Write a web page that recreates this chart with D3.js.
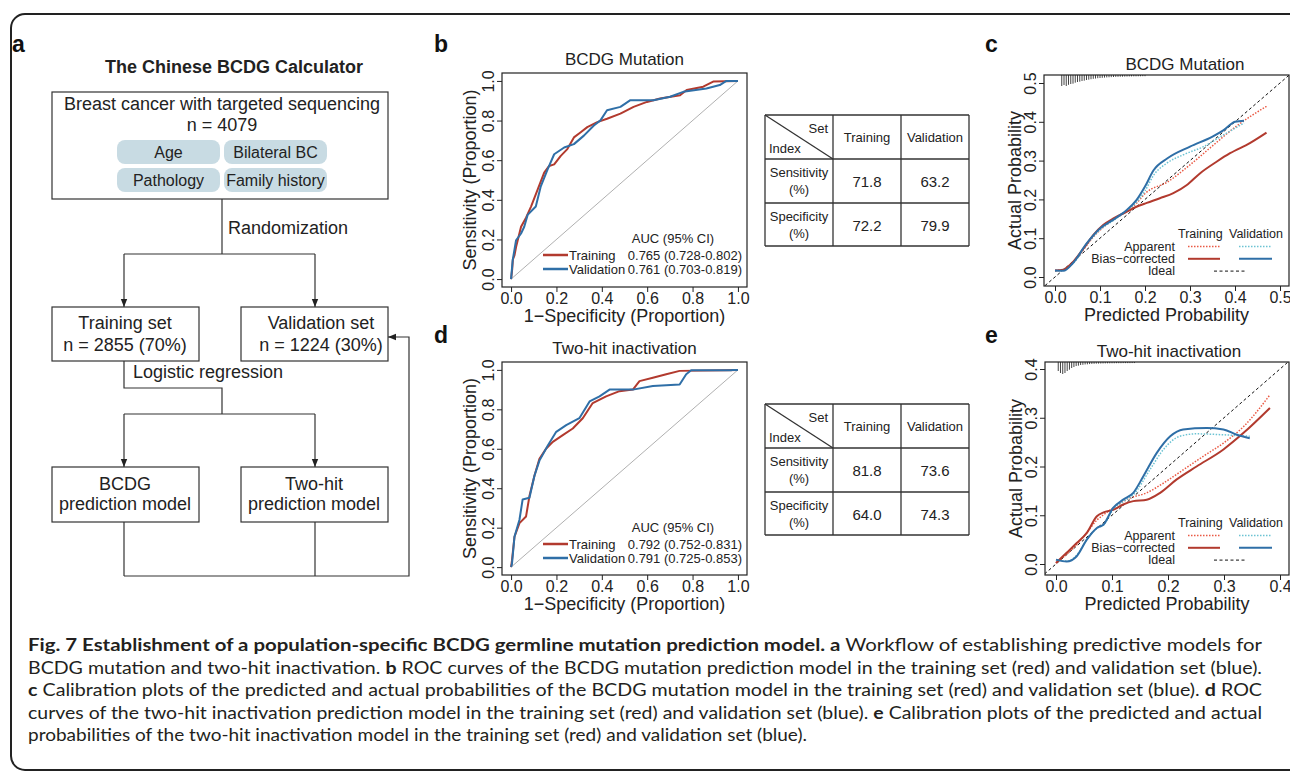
<!DOCTYPE html>
<html>
<head>
<meta charset="utf-8">
<script src="https://cdn.jsdelivr.net/npm/d3@7"></script>
<style>
  body { margin: 0; background: #fff; }
  svg { display: block; }
</style>
</head>
<body>
<div id="viz"></div>
<script>
// -----------------------------
// DATA
// -----------------------------
const rocTicks = [0, 0.2, 0.4, 0.6, 0.8, 1.0];

// ROC curves, [1 - specificity, sensitivity]
const rocTrainB = [[0,0],[0.005,0.05],[0.008,0.1],[0.015,0.12],[0.022,0.162],[0.044,0.264],[0.066,0.31],[0.088,0.366],[0.117,0.451],[0.146,0.537],[0.168,0.571],[0.19,0.579],[0.219,0.622],[0.248,0.656],[0.277,0.715],[0.307,0.741],[0.336,0.767],[0.38,0.792],[0.423,0.809],[0.482,0.835],[0.54,0.869],[0.599,0.894],[0.657,0.911],[0.745,0.928],[0.774,0.954],[0.847,0.971],[0.891,0.997],[1,1]];
const rocValidB = [[0,0],[0.007,0.094],[0.022,0.196],[0.044,0.23],[0.058,0.264],[0.073,0.324],[0.109,0.366],[0.131,0.468],[0.161,0.554],[0.19,0.63],[0.234,0.664],[0.277,0.681],[0.321,0.724],[0.365,0.775],[0.394,0.801],[0.423,0.852],[0.482,0.869],[0.526,0.903],[0.628,0.903],[0.701,0.92],[0.759,0.945],[0.861,0.962],[0.92,0.979],[0.949,1],[1,1]];
const rocTrainD = [[0,0],[0.004,0.034],[0.015,0.154],[0.037,0.223],[0.066,0.257],[0.081,0.36],[0.103,0.463],[0.125,0.549],[0.154,0.6],[0.184,0.635],[0.228,0.669],[0.272,0.703],[0.316,0.755],[0.36,0.832],[0.419,0.866],[0.478,0.892],[0.537,0.9],[0.566,0.943],[0.625,0.96],[0.684,0.978],[0.743,0.995],[0.949,0.998],[1,1]];
const rocValidD = [[0,0],[0.004,0.017],[0.015,0.154],[0.037,0.24],[0.051,0.343],[0.081,0.352],[0.103,0.463],[0.125,0.54],[0.162,0.617],[0.199,0.686],[0.243,0.72],[0.301,0.755],[0.346,0.84],[0.39,0.866],[0.434,0.9],[0.537,0.9],[0.625,0.918],[0.743,0.926],[0.772,0.978],[0.794,0.998],[0.97,0.998],[0.978,1],[1,1]];

const aucLabelsB = ["0.765 (0.728-0.802)", "0.761 (0.703-0.819)"];
const aucLabelsD = ["0.792 (0.752-0.831)", "0.791 (0.725-0.853)"];

// tables: rows Sensitivity / Specificity, cols Training / Validation
const tableCols = ["Training", "Validation"];
const tableRows = ["Sensitivity", "Specificity"];
const tableB = [["71.8", "63.2"], ["72.2", "79.9"]];
const tableD = [["81.8", "73.6"], ["64.0", "74.3"]];

// calibration curves, [predicted, actual]
const calTrainBiasC = [[0,0.017],[0.0185,0.019],[0.04,0.039],[0.063,0.073],[0.085,0.108],[0.107,0.134],[0.13,0.151],[0.159,0.168],[0.181,0.181],[0.204,0.191],[0.233,0.203],[0.263,0.216],[0.293,0.237],[0.322,0.267],[0.359,0.297],[0.389,0.319],[0.433,0.345],[0.47,0.372]];
const calTrainAppC = [[0,0.017],[0.0185,0.018],[0.04,0.037],[0.063,0.07],[0.085,0.103],[0.107,0.128],[0.13,0.148],[0.159,0.17],[0.181,0.19],[0.2,0.215],[0.25,0.245],[0.3,0.289],[0.35,0.338],[0.4,0.386],[0.47,0.44]];
const calValidBiasC = [[0,0.017],[0.0185,0.016],[0.04,0.036],[0.07,0.086],[0.1,0.125],[0.13,0.148],[0.159,0.172],[0.181,0.198],[0.2,0.233],[0.219,0.275],[0.25,0.306],[0.3,0.336],[0.35,0.362],[0.374,0.378],[0.4,0.4],[0.42,0.403]];
const calValidAppC = [[0,0.015],[0.04,0.035],[0.07,0.083],[0.1,0.122],[0.13,0.146],[0.159,0.17],[0.181,0.193],[0.2,0.222],[0.219,0.262],[0.248,0.293],[0.285,0.315],[0.33,0.336],[0.374,0.366],[0.42,0.397]];

const calTrainBiasE = [[0,0.002],[0.019,0.023],[0.037,0.043],[0.055,0.064],[0.073,0.098],[0.085,0.106],[0.102,0.111],[0.12,0.122],[0.138,0.129],[0.162,0.132],[0.186,0.146],[0.215,0.173],[0.251,0.2],[0.299,0.235],[0.335,0.269],[0.382,0.32]];
const calTrainAppE = [[0,0.002],[0.019,0.02],[0.037,0.04],[0.055,0.064],[0.073,0.09],[0.085,0.101],[0.102,0.115],[0.132,0.135],[0.162,0.146],[0.192,0.166],[0.227,0.193],[0.263,0.221],[0.299,0.248],[0.335,0.282],[0.382,0.347]];
const calValidBiasE = [[0,0.009],[0.019,0.005],[0.037,0.016],[0.055,0.05],[0.073,0.074],[0.085,0.081],[0.102,0.115],[0.12,0.132],[0.138,0.146],[0.156,0.18],[0.18,0.228],[0.204,0.262],[0.227,0.276],[0.269,0.279],[0.299,0.276],[0.323,0.265],[0.346,0.258]];
const calValidAppE = [[0,0.008],[0.019,0.006],[0.037,0.018],[0.055,0.05],[0.073,0.073],[0.085,0.08],[0.102,0.112],[0.12,0.128],[0.138,0.142],[0.168,0.194],[0.192,0.235],[0.221,0.262],[0.251,0.267],[0.299,0.265],[0.346,0.262]];

// histogram spikes of predicted probabilities (top rug)
const spikeXC = [0.015,0.02,0.025,0.03,0.035,0.04,0.045,0.05,0.055,0.06,0.065,0.07,0.075,0.08,0.085,0.09,0.095,0.1,0.105,0.11,0.115,0.12,0.125,0.13,0.135,0.14,0.145,0.15,0.155,0.16,0.165,0.17,0.175,0.18,0.185,0.19,0.195,0.2];
const spikeCountC = [150,135,150,132,120,115,100,90,85,75,70,60,55,48,42,38,33,30,27,24,21,19,17,15,13,12,11,10,9,8,7,6,5,5,4,4,3,3];
const spikeXE = [0.004,0.008,0.012,0.016,0.02,0.024,0.028,0.032,0.036,0.04,0.044,0.048,0.052,0.056,0.06,0.064,0.068,0.072,0.076,0.08,0.084,0.088,0.092,0.096,0.1,0.104,0.108,0.112,0.116,0.12,0.124,0.128,0.132,0.136,0.14];
const spikeCountE = [120,150,165,150,120,100,75,60,45,40,30,27,22,20,16,14,12,10,9,8,7,6,5,5,4,4,3,3,3,2,2,2,2,1,1];

const calTicksC = [0, 0.1, 0.2, 0.3, 0.4, 0.5];
const calTicksE = [0, 0.1, 0.2, 0.3, 0.4];

// -----------------------------
// SETUP
// -----------------------------
const W = 1290, H = 774;
const FONT = "'Liberation Sans', Arial, Helvetica, sans-serif";
const INK = "#222";
const RED = "#b23a2e", BLUE = "#2f6fa7";
const RED_LIGHT = "#ea5a45", BLUE_LIGHT = "#6cc3d3";

const svg = d3.select("#viz").append("svg")
  .attr("width", W).attr("height", H)
  .attr("font-family", FONT);

svg.append("rect").attr("width", W).attr("height", H).attr("fill", "#fff");

// outer rounded frame
svg.append("rect")
  .attr("x", 11).attr("y", 14).attr("width", 1330).attr("height", 756).attr("rx", 14)
  .attr("fill", "none").attr("stroke", INK).attr("stroke-width", 2);

const defs = svg.append("defs");
defs.append("marker").attr("id", "arr")
  .attr("viewBox", "0 0 10 10").attr("refX", 10).attr("refY", 5)
  .attr("markerWidth", 9).attr("markerHeight", 8).attr("markerUnits", "userSpaceOnUse")
  .attr("orient", "auto")
  .append("path").attr("d", "M0,1L10,5L0,9Z").attr("fill", INK);

function label(txt, x, y) {
  svg.append("text").attr("x", x).attr("y", y).attr("font-size", 23)
    .attr("font-weight", "bold").attr("fill", "#111").text(txt);
}
label("a", 12, 52);
label("b", 434, 52);
label("d", 434, 343);
label("c", 985, 52);
label("e", 985, 343);

// -----------------------------
// PANEL A: FLOWCHART
// -----------------------------
const flow = svg.append("g").attr("fill", INK);
const poly = d3.line();

function box(x, y, w, h) {
  flow.append("rect").attr("x", x).attr("y", y).attr("width", w).attr("height", h)
    .attr("fill", "#fff").attr("stroke", "#333").attr("stroke-width", 1.2);
}
function ftext(txt, x, y, size, anchor) {
  flow.append("text").attr("x", x).attr("y", y).attr("font-size", size || 18)
    .attr("text-anchor", anchor || "middle").attr("fill", INK).text(txt);
}
function wire(pts, arrow) {
  flow.append("path").attr("d", poly(pts)).attr("fill", "none")
    .attr("stroke", "#333").attr("stroke-width", 1.2)
    .attr("marker-end", arrow ? "url(#arr)" : null);
}

flow.append("text").attr("x", 234).attr("y", 73).attr("font-size", 18)
  .attr("font-weight", "bold").attr("text-anchor", "middle").text("The Chinese BCDG Calculator");

box(52, 92, 336, 107);
ftext("Breast cancer with targeted sequencing", 222, 110);
ftext("n = 4079", 222, 131);

const pills = [
  { t: "Age", x: 117, y: 140 }, { t: "Bilateral BC", x: 224, y: 140 },
  { t: "Pathology", x: 117, y: 168 }, { t: "Family history", x: 224, y: 168 }
];
pills.forEach(p => {
  flow.append("rect").attr("x", p.x).attr("y", p.y).attr("width", 103).attr("height", 24)
    .attr("rx", 8).attr("fill", "#c8dbe3");
  ftext(p.t, p.x + 51.5, p.y + 18, 16);
});

wire([[222, 199], [222, 254]]);
ftext("Randomization", 228, 234, 18, "start");
wire([[124, 254], [315, 254]]);
wire([[124, 254], [124, 307]], true);
wire([[315, 254], [315, 307]], true);

box(52, 307, 147, 54);
ftext("Training set", 125, 329);
ftext("n = 2855 (70%)", 125, 351);
box(241, 307, 147, 54);
ftext("Validation set", 321, 329);
ftext("n = 1224 (30%)", 321, 351);

wire([[124, 361], [124, 388], [222, 388], [222, 414]]);
ftext("Logistic regression", 133, 378, 18, "start");
wire([[124, 414], [315, 414]]);
wire([[124, 414], [124, 467]], true);
wire([[315, 414], [315, 467]], true);

box(52, 467, 147, 55);
ftext("BCDG", 125, 490);
ftext("prediction model", 125, 510);
box(241, 467, 147, 55);
ftext("Two-hit", 314, 490);
ftext("prediction model", 314, 510);

wire([[124, 522], [124, 576]]);
wire([[315, 522], [315, 576]]);
wire([[124, 576], [409, 576], [409, 337], [388, 337]], true);

// -----------------------------
// ROC PANELS
// -----------------------------
function styleAxisText(sel, size) {
  sel.attr("font-family", FONT);
  sel.selectAll("text").attr("font-size", size).attr("font-family", FONT).attr("fill", INK);
}

function drawRoc(o) {
  const g = svg.append("g");
  const x = d3.scaleLinear().domain([-0.04, 1.04]).range([o.left, o.right]);
  const y = d3.scaleLinear().domain([-0.04, 1.04]).range([o.bottom, o.top]);

  g.append("text").attr("x", (o.left + o.right) / 2).attr("y", o.top - 8)
    .attr("text-anchor", "middle").attr("font-size", 17).attr("fill", INK).text(o.title);

  // chance line
  g.append("line").attr("x1", x(0)).attr("y1", y(0)).attr("x2", x(1)).attr("y2", y(1))
    .attr("stroke", "#b0b0b0").attr("stroke-width", 1);

  const line = d3.line().x(d => x(d[0])).y(d => y(d[1]));
  g.append("path").datum(o.train).attr("d", line).attr("fill", "none")
    .attr("stroke", RED).attr("stroke-width", 2).attr("stroke-linejoin", "round");
  g.append("path").datum(o.valid).attr("d", line).attr("fill", "none")
    .attr("stroke", BLUE).attr("stroke-width", 2).attr("stroke-linejoin", "round");

  g.append("rect").attr("x", o.left).attr("y", o.top)
    .attr("width", o.right - o.left).attr("height", o.bottom - o.top)
    .attr("fill", "none").attr("stroke", INK).attr("stroke-width", 1.2);

  const xa = g.append("g").attr("transform", `translate(0,${o.bottom})`).attr("color", INK)
    .call(d3.axisBottom(x).tickValues(rocTicks).tickFormat(d3.format(".1f")).tickSize(5));
  xa.select(".domain").remove();
  styleAxisText(xa, 16);
  xa.selectAll("text").attr("y", 17).attr("dy", null);

  const ya = g.append("g").attr("transform", `translate(${o.left},0)`).attr("color", INK)
    .call(d3.axisLeft(y).tickValues(rocTicks).tickFormat(d3.format(".1f")).tickSize(5));
  ya.select(".domain").remove();
  styleAxisText(ya, 16);
  ya.selectAll("text").attr("x", 0).attr("y", -8).attr("dy", null)
    .attr("text-anchor", "middle").attr("transform", "rotate(-90)");

  g.append("text").attr("x", (o.left + o.right) / 2).attr("y", o.bottom + 35)
    .attr("text-anchor", "middle").attr("font-size", 18).attr("fill", INK)
    .text("1\u2212Specificity (Proportion)");
  g.append("text")
    .attr("transform", `translate(${o.left - 32},${(o.top + o.bottom) / 2}) rotate(-90)`)
    .attr("dy", "0.35em").attr("text-anchor", "middle").attr("font-size", 18).attr("fill", INK)
    .text("Sensitivity (Proportion)");

  // legend
  const lg = g.append("g").attr("font-size", 13).attr("fill", INK);
  lg.append("text").attr("x", 673).attr("y", o.top + 170).attr("text-anchor", "middle").text("AUC (95% CI)");
  [["Training", RED, o.auc[0]], ["Validation", BLUE, o.auc[1]]].forEach((d, i) => {
    const ly = o.top + 182 + i * 14;
    lg.append("line").attr("x1", 543).attr("x2", 568).attr("y1", ly).attr("y2", ly)
      .attr("stroke", d[1]).attr("stroke-width", 2.5);
    lg.append("text").attr("x", 569).attr("y", ly + 5).text(d[0]);
    lg.append("text").attr("x", 742).attr("y", ly + 5).attr("text-anchor", "end").text(d[2]);
  });
}

drawRoc({ left: 502, right: 747, top: 73, bottom: 287, title: "BCDG Mutation",
  train: rocTrainB, valid: rocValidB, auc: aucLabelsB });
drawRoc({ left: 502, right: 747, top: 362, bottom: 575, title: "Two-hit inactivation",
  train: rocTrainD, valid: rocValidD, auc: aucLabelsD });

// -----------------------------
// TABLES
// -----------------------------
function drawTable(top, vals) {
  const g = svg.append("g").attr("fill", INK);
  const xs = [765, 833, 901, 969];
  const ys = [top, top + 44, top + 88, top + 131];
  const ln = (x1, y1, x2, y2) => {
    g.append("line").attr("x1", x1).attr("y1", y1).attr("x2", x2).attr("y2", y2)
      .attr("stroke", "#333").attr("stroke-width", 1.3);
  };
  xs.forEach(x => ln(x, ys[0], x, ys[3]));
  ys.forEach(y => ln(xs[0], y, xs[3], y));
  ln(xs[0], ys[0], xs[1], ys[1]);

  g.append("text").attr("x", 828).attr("y", top + 18).attr("text-anchor", "end").attr("font-size", 13).text("Set");
  g.append("text").attr("x", 769).attr("y", top + 38).attr("font-size", 13).text("Index");
  tableCols.forEach((c, j) => {
    g.append("text").attr("x", (xs[j + 1] + xs[j + 2]) / 2).attr("y", top + 27)
      .attr("text-anchor", "middle").attr("font-size", 13).text(c);
  });
  tableRows.forEach((r, i) => {
    const y0 = ys[i + 1];
    g.append("text").attr("x", 799).attr("y", y0 + 18).attr("text-anchor", "middle").attr("font-size", 13).text(r);
    g.append("text").attr("x", 799).attr("y", y0 + 35).attr("text-anchor", "middle").attr("font-size", 13).text("(%)");
    vals[i].forEach((v, j) => {
      g.append("text").attr("x", (xs[j + 1] + xs[j + 2]) / 2).attr("y", y0 + 28)
        .attr("text-anchor", "middle").attr("font-size", 15).text(v);
    });
  });
}
drawTable(115, tableB);
drawTable(404, tableD);

// -----------------------------
// CALIBRATION PANELS
// -----------------------------
function drawCal(o) {
  const g = svg.append("g");
  const x = d3.scaleLinear().domain([0, o.max]).range([o.x0, o.x1]);
  const y = d3.scaleLinear().domain([0, o.max]).range([o.y0, o.y1]);
  const clipId = "clip" + o.id;
  defs.append("clipPath").attr("id", clipId).append("rect")
    .attr("x", o.left).attr("y", o.top).attr("width", o.right - o.left).attr("height", o.bottom - o.top);

  g.append("text").attr("x", o.titleX).attr("y", o.top - 5)
    .attr("text-anchor", "middle").attr("font-size", 17).attr("fill", INK).text(o.title);

  const inner = g.append("g").attr("clip-path", `url(#${clipId})`);
  // ideal
  inner.append("line").attr("x1", x(-0.05)).attr("y1", y(-0.05)).attr("x2", x(o.max * 1.1)).attr("y2", y(o.max * 1.1))
    .attr("stroke", "#111").attr("stroke-width", 1).attr("stroke-dasharray", "3,2.5");

  // rug histogram hanging from the top
  const len = d3.scaleLinear().domain([0, 165]).range([0, 11]);
  inner.selectAll("line.spike").data(o.spikeX).join("line").attr("class", "spike")
    .attr("x1", d => x(d)).attr("x2", d => x(d))
    .attr("y1", o.top).attr("y2", (d, i) => o.top + 1 + len(o.spikeN[i]))
    .attr("stroke", "#444").attr("stroke-width", 1);

  const line = d3.line().x(d => x(d[0])).y(d => y(d[1])).curve(d3.curveMonotoneX);
  const series = [
    { d: o.trainApp, c: RED_LIGHT, w: 1.5, dash: "1.5,1.5" },
    { d: o.validApp, c: BLUE_LIGHT, w: 1.5, dash: "1.5,1.5" },
    { d: o.trainBias, c: RED, w: 2, dash: null },
    { d: o.validBias, c: BLUE, w: 2, dash: null }
  ];
  series.forEach(s => {
    inner.append("path").datum(s.d).attr("d", line).attr("fill", "none")
      .attr("stroke", s.c).attr("stroke-width", s.w).attr("stroke-dasharray", s.dash);
  });

  g.append("rect").attr("x", o.left).attr("y", o.top)
    .attr("width", o.right - o.left).attr("height", o.bottom - o.top)
    .attr("fill", "none").attr("stroke", INK).attr("stroke-width", 1.2);

  const xa = g.append("g").attr("transform", `translate(0,${o.bottom})`).attr("color", INK)
    .call(d3.axisBottom(x).tickValues(o.ticks).tickFormat(d3.format(".1f")).tickSize(5));
  xa.select(".domain").remove();
  styleAxisText(xa, 16);
  xa.selectAll("text").attr("y", 17).attr("dy", null);

  const ya = g.append("g").attr("transform", `translate(${o.left},0)`).attr("color", INK)
    .call(d3.axisLeft(y).tickValues(o.ticks).tickFormat(d3.format(".1f")).tickSize(5));
  ya.select(".domain").remove();
  styleAxisText(ya, 16);
  ya.selectAll("text").attr("x", 0).attr("y", -8).attr("dy", null)
    .attr("text-anchor", "middle").attr("transform", "rotate(-90)");

  g.append("text").attr("x", (o.left + o.right) / 2).attr("y", o.bottom + 35)
    .attr("text-anchor", "middle").attr("font-size", 18).attr("fill", INK).text("Predicted Probability");
  g.append("text")
    .attr("transform", `translate(${o.left - 29},${(o.top + o.bottom) / 2}) rotate(-90)`)
    .attr("dy", "0.35em").attr("text-anchor", "middle").attr("font-size", 18).attr("fill", INK)
    .text("Actual Probability");

  // legend
  const lg = g.append("g").attr("font-size", 12.5).attr("fill", INK);
  const ly = o.legendY;
  lg.append("text").attr("x", 1178).attr("y", ly).text("Training");
  lg.append("text").attr("x", 1229).attr("y", ly).text("Validation");
  const rows = [
    { t: "Apparent", items: [[1188, 1220, RED_LIGHT, "1.5,1.5", 1.5], [1239, 1272, BLUE_LIGHT, "1.5,1.5", 1.5]] },
    { t: "Bias\u2212corrected", items: [[1188, 1220, RED, null, 2], [1239, 1272, BLUE, null, 2]] },
    { t: "Ideal", items: [[1214, 1247, "#111", "3,2.5", 1]] }
  ];
  rows.forEach((r, i) => {
    const yy = ly + 12.5 + i * 12.3;
    lg.append("text").attr("x", 1175).attr("y", yy).attr("text-anchor", "end").text(r.t);
    r.items.forEach(it => {
      lg.append("line").attr("x1", it[0]).attr("x2", it[1]).attr("y1", yy - 4).attr("y2", yy - 4)
        .attr("stroke", it[2]).attr("stroke-width", it[4]).attr("stroke-dasharray", it[3]);
    });
  });
}

drawCal({ id: "c", max: 0.5, x0: 1055, x1: 1280, y0: 277, y1: 83,
  left: 1044, right: 1289, top: 75, bottom: 286, title: "BCDG Mutation", titleX: 1185,
  ticks: calTicksC, spikeX: spikeXC, spikeN: spikeCountC, legendY: 238,
  trainApp: calTrainAppC, trainBias: calTrainBiasC, validApp: calValidAppC, validBias: calValidBiasC });
drawCal({ id: "e", max: 0.4, x0: 1056, x1: 1280, y0: 564, y1: 369,
  left: 1045, right: 1289, top: 362, bottom: 575, title: "Two-hit inactivation", titleX: 1169,
  ticks: calTicksE, spikeX: spikeXE, spikeN: spikeCountE, legendY: 527,
  trainApp: calTrainAppE, trainBias: calTrainBiasE, validApp: calValidAppE, validBias: calValidBiasE });

// -----------------------------
// CAPTION
// -----------------------------
const captionLines = [
  { w: 1234, parts: [["Fig. 7 Establishment of a population-specific BCDG germline mutation prediction model. a", true], [" Workflow of establishing predictive models for", false]] },
  { w: 1234, parts: [["BCDG mutation and two-hit inactivation. ", false], ["b", true], [" ROC curves of the BCDG mutation prediction model in the training set (red) and validation set (blue).", false]] },
  { w: 1234, parts: [["c", true], [" Calibration plots of the predicted and actual probabilities of the BCDG mutation model in the training set (red) and validation set (blue). ", false], ["d", true], [" ROC", false]] },
  { w: 1234, parts: [["curves of the two-hit inactivation prediction model in the training set (red) and validation set (blue). ", false], ["e", true], [" Calibration plots of the predicted and actual", false]] },
  { w: 779, parts: [["probabilities of the two-hit inactivation model in the training set (red) and validation set (blue).", false]] }
];
const cap = svg.append("g").attr("font-family", "Lato, 'Open Sans', sans-serif").attr("font-size", 16.5).attr("fill", "#231f20");
captionLines.forEach((ln, i) => {
  const t = cap.append("text").attr("x", 28).attr("y", 651 + i * 22.5)
    .attr("textLength", ln.w).attr("lengthAdjust", "spacingAndGlyphs")
    .attr("xml:space", "preserve").style("white-space", "pre");
  ln.parts.forEach(p => {
    t.append("tspan").attr("font-weight", p[1] ? "bold" : null).text(p[0]);
  });
});
</script>
</body>
</html>
